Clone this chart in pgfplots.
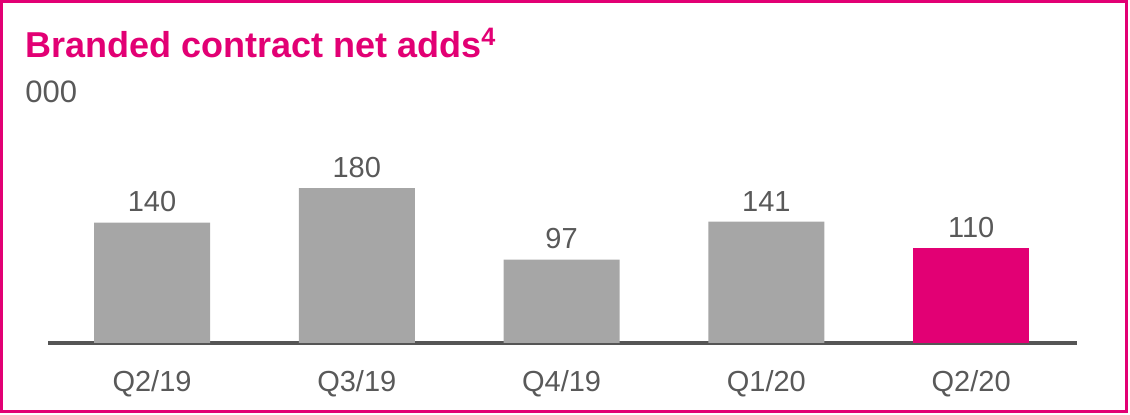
\documentclass[border=0pt]{standalone}
\usepackage{fontspec}
\setmainfont{Liberation Sans}
\usepackage{pgfplots}
\pgfplotsset{compat=1.18}
\definecolor{Magenta}{HTML}{E20074}
\definecolor{Bar}{HTML}{A6A6A6}
\definecolor{Base}{HTML}{555555}
\definecolor{Txt}{HTML}{595959}

\begin{document}
\begin{tikzpicture}
  % page = 1130x415 px at 0.5pt per px, origin at axis lower left
  \useasboundingbox (-24pt,171.5pt) rectangle (541pt,-36pt);
  \draw[Magenta,line width=1.5pt] (-23.25pt,170.75pt) rectangle (539.25pt,-34.25pt);
  \node[anchor=base west,inner sep=0pt,text=Magenta,font=\fontsize{18}{20}\selectfont\bfseries]
    at (-11.5pt,142.5pt) {Branded contract net adds\textsuperscript{4}};
  \node[anchor=base west,inner sep=0pt,text=Txt,font=\fontsize{15.5}{18}\selectfont]
    at (-11.5pt,120pt) {000};
  \begin{axis}[
    at={(0pt,0pt)},anchor=south west,
    scale only axis,width=514.5pt,height=86pt,
    xmin=-0.508,xmax=4.517,ymin=0,ymax=200,
    axis x line*=bottom,axis y line=none,
    x axis line style={draw=Base,line width=2pt,-},
    ybar,bar width=58pt,bar shift=0pt,
    xtick={0,1,2,3,4},
    xticklabels={Q2/19,Q3/19,Q4/19,Q1/20,Q2/20},
    major tick length=0pt,ytick=\empty,
    xticklabel style={anchor=base,yshift=-24.5pt,text=Txt,font=\fontsize{14.5}{17}\selectfont},
    /pgf/number format/assume math mode=true,
    nodes near coords,
    every node near coord/.append style={text=Txt,inner sep=0pt,yshift=5pt,
      font=\fontsize{14.5}{17}\selectfont},
    clip=false
  ]
    \addplot[draw=none,fill=Bar] coordinates {(0,140)(1,180)(2,97)(3,141)};
    \addplot[draw=none,fill=Magenta] coordinates {(4,110)};
  \end{axis}
\end{tikzpicture}
\end{document}
